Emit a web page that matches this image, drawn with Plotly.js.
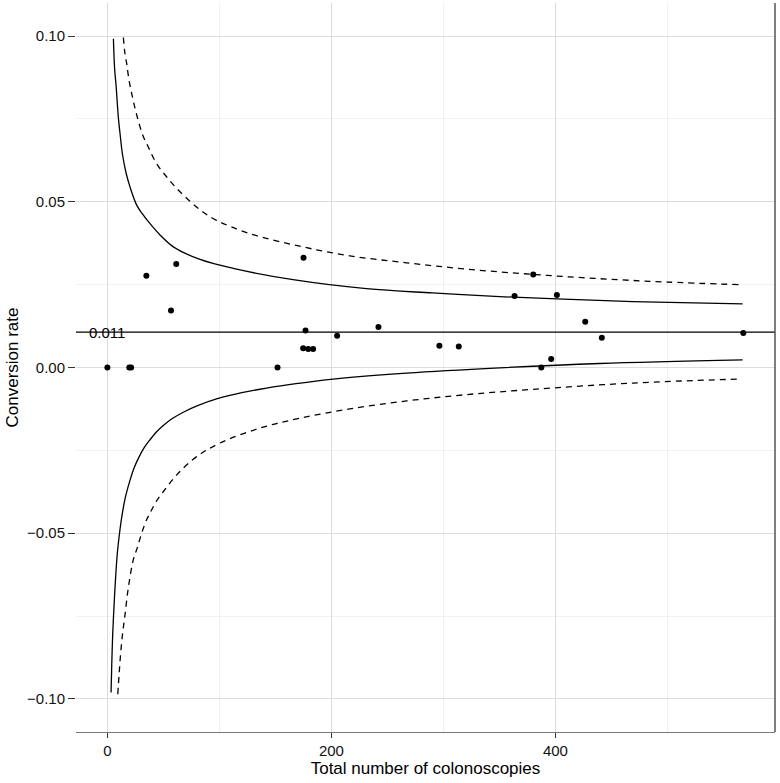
<!DOCTYPE html>
<html>
<head>
<meta charset="utf-8">
<script src="https://cdn.plot.ly/plotly-3.0.1.min.js"></script>
<style>html,body{margin:0;padding:0;background:#fff;}#chart{width:780px;height:783px;}</style>
</head>
<body>
<div id="chart"></div>
<script>
// Observed units: total colonoscopies vs conversion rate
const unitN    = [0, 19.6, 21.2, 34.8, 56.8, 61.5, 151.9, 175.1, 176.9, 174.8, 179.3, 183.7, 205.1, 242.0, 296.4, 313.7, 363.5, 380.2, 387.4, 396.2, 401.3, 426.6, 441.4, 567.7];
const unitRate = [0, 0, 0, 0.0277, 0.0172, 0.0312, 0, 0.0331, 0.0112, 0.0058, 0.0056, 0.0056, 0.0096, 0.0122, 0.0066, 0.0063, 0.0216, 0.0281, 0, 0.0026, 0.0219, 0.0138, 0.0090, 0.0104];

// Overall mean rate
const meanRate = 0.0107;
const meanLabel = "0.011";

// Inner control limits (solid)
const innerUpperN = [5.4, 6.5, 7.8, 9.8, 11.5, 13.4, 16.5, 20.2, 26.2, 31, 38.1, 47, 58.9, 82.7, 112.4, 165.8, 231.3, 290, 350.2, 401.3, 469, 567.1];
const innerUpperY = [0.0992, 0.090, 0.085, 0.0755, 0.070, 0.0645, 0.059, 0.0545, 0.049, 0.0465, 0.0434, 0.040, 0.0364, 0.0326, 0.0299, 0.0265, 0.0238, 0.0225, 0.0214, 0.0207, 0.0199, 0.0192];
const innerLowerN = [3.3, 3.9, 4.8, 5.8, 6.9, 8.9, 11.3, 12.8, 16, 20, 24, 28, 33, 38.1, 44, 49.9, 58, 67.8, 80, 97.5, 120, 142.1, 170, 201.5, 267, 350.2, 439.3, 567.1];
const innerLowerY = [-0.0981, -0.090, -0.0801, -0.073, -0.066, -0.056, -0.0488, -0.0452, -0.0393, -0.0343, -0.0302, -0.0272, -0.0241, -0.0218, -0.0194, -0.0175, -0.0154, -0.0135, -0.0116, -0.0095, -0.0076, -0.0062, -0.0048, -0.0035, -0.0017, -0.0001, 0.0012, 0.0023];

// Outer control limits (dashed)
const outerUpperN = [14.3, 15.6, 17.3, 19.3, 21.8, 24.5, 27.6, 31.7, 36.6, 44, 53, 62, 73.7, 85, 97.5, 127.2, 171.8, 216.4, 267, 320.5, 379.9, 439.3, 498.8, 564.2];
const outerUpperY = [0.0996, 0.095, 0.0916, 0.0868, 0.0826, 0.0785, 0.0745, 0.070, 0.0665, 0.0615, 0.0575, 0.054, 0.0502, 0.047, 0.0444, 0.0404, 0.0366, 0.0337, 0.0316, 0.0297, 0.0281, 0.0268, 0.0258, 0.0250];
const outerLowerN = [9.3, 10.5, 11.9, 13.7, 15.8, 18.7, 23.2, 26.8, 30.7, 35.1, 38.1, 43.5, 49.9, 61.9, 79.7, 100.5, 136.2, 171.8, 216.4, 267, 320, 379.9, 469, 562.6];
const outerLowerY = [-0.0986, -0.0925, -0.0861, -0.080, -0.0745, -0.0665, -0.058, -0.0543, -0.0499, -0.0459, -0.0439, -0.0405, -0.0375, -0.0324, -0.0269, -0.0228, -0.0183, -0.0153, -0.0125, -0.0101, -0.0082, -0.0066, -0.0047, -0.0035];

const FONT = "Liberation Sans, Arial, Helvetica, sans-serif";

function limitTrace(x, y, dash) {
  return {
    x: x, y: y, type: "scatter", mode: "lines",
    line: {color: "#000", width: 1.3, dash: dash, shape: "spline", smoothing: 1},
    hoverinfo: "skip", showlegend: false
  };
}

const traces = [
  limitTrace(innerUpperN, innerUpperY, "solid"),
  limitTrace(innerLowerN, innerLowerY, "solid"),
  limitTrace(outerUpperN, outerUpperY, "6px,5px"),
  limitTrace(outerLowerN, outerLowerY, "6px,5px"),
  {
    x: unitN, y: unitRate, type: "scatter", mode: "markers",
    marker: {color: "#000", size: 6}, showlegend: false
  }
];

const layout = {
  width: 780, height: 783,
  margin: {l: 76, r: 5, t: 3, b: 51},
  paper_bgcolor: "#fff", plot_bgcolor: "#fff",
  font: {family: FONT, color: "#111", size: 15},
  showlegend: false,
  xaxis: {
    range: [-28, 596],
    tickvals: [0, 200, 400],
    ticktext: ["0", "200", "400"],
    showgrid: true, gridcolor: "#dcdcdc", gridwidth: 1,
    minor: {tickvals: [100, 300, 500], showgrid: true, gridcolor: "#f1f1f1", gridwidth: 1},
    zeroline: false,
    showline: true, linecolor: "#7a7a7a", linewidth: 1.2,
    ticks: "outside", ticklen: 5, tickcolor: "#333", tickwidth: 1,
    tickfont: {family: FONT, size: 15, color: "#111"},
    title: {text: "Total number of colonoscopies", font: {family: FONT, size: 17, color: "#000"}, standoff: 2}
  },
  yaxis: {
    range: [-0.11, 0.11],
    tickvals: [-0.10, -0.05, 0, 0.05, 0.10],
    tickformat: ".2f",
    showgrid: true, gridcolor: "#dcdcdc", gridwidth: 1,
    minor: {tickvals: [-0.075, -0.025, 0.025, 0.075], showgrid: true, gridcolor: "#f1f1f1", gridwidth: 1},
    zeroline: false,
    showline: false,
    ticks: "outside", ticklen: 7, tickcolor: "#333", tickwidth: 1,
    tickfont: {family: FONT, size: 15, color: "#111"},
    title: {text: "Conversion rate", font: {family: FONT, size: 17, color: "#000"}, standoff: 4}
  },
  shapes: [
    {type: "line", xref: "paper", x0: 0, x1: 1, yref: "y", y0: meanRate, y1: meanRate,
     line: {color: "#000", width: 1.3}},
    {type: "line", xref: "paper", x0: 1, x1: 1, yref: "paper", y0: 0, y1: 1,
     line: {color: "#555", width: 1.5}}
  ],
  annotations: [
    {x: 0, y: meanRate, xref: "x", yref: "y", text: meanLabel, showarrow: false,
     xanchor: "center", yanchor: "middle", font: {family: FONT, size: 15, color: "#000"}}
  ]
};

Plotly.newPlot("chart", traces, layout, {staticPlot: true, displayModeBar: false});
</script>
</body>
</html>
